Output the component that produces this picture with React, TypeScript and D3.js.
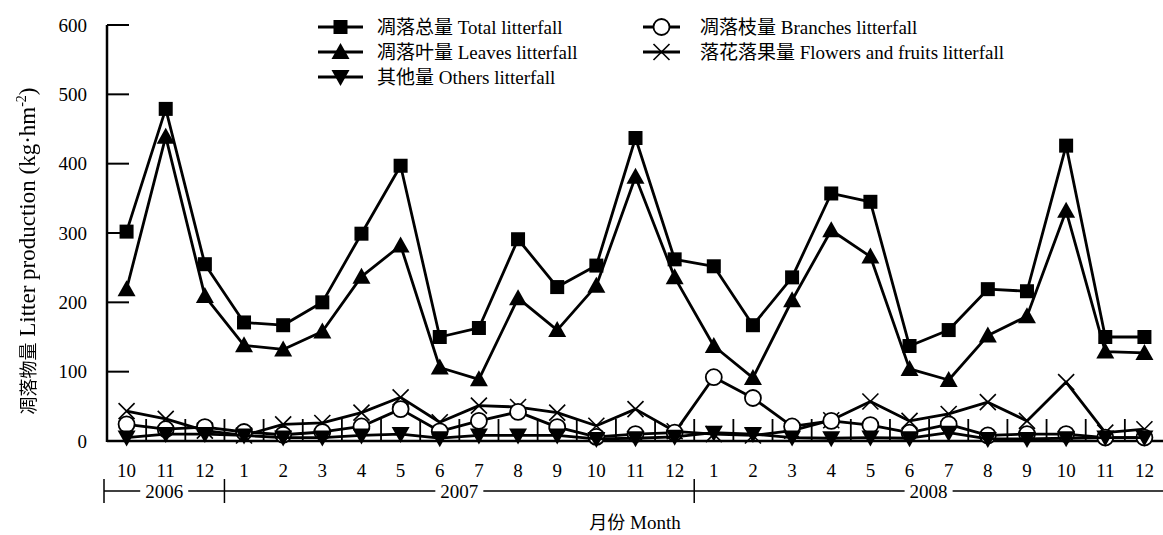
import * as d3 from "d3";

const months = ["10", "11", "12", "1", "2", "3", "4", "5", "6", "7", "8", "9", "10", "11", "12", "1", "2", "3", "4", "5", "6", "7", "8", "9", "10", "11", "12"];
const years = [
  { label: "2006", start: 0, end: 3 },
  { label: "2007", start: 3, end: 15 },
  { label: "2008", start: 15, end: 27 },
];
const yTicks = [0, 100, 200, 300, 400, 500, 600];

const totalLitter = [302, 479, 255, 171, 167, 200, 299, 397, 150, 163, 291, 222, 253, 437, 262, 252, 167, 236, 357, 345, 137, 160, 219, 216, 426, 150, 150];
const leavesLitter = [219, 439, 209, 138, 132, 158, 237, 282, 106, 89, 206, 160, 224, 381, 236, 137, 91, 203, 304, 266, 104, 88, 152, 180, 332, 129, 127];
const branchesLitter = [24, 17, 20, 13, 9, 13, 21, 46, 14, 29, 42, 20, 6, 10, 12, 92, 62, 21, 29, 23, 12, 24, 8, 10, 10, 5, 5];
const flowersLitter = [43, 32, 15, 8, 24, 26, 41, 63, 27, 51, 49, 41, 22, 46, 14, 10, 8, 15, 30, 57, 29, 39, 56, 29, 85, 12, 17];
const othersLitter = [5, 10, 10, 8, 5, 5, 8, 10, 4, 8, 8, 8, 3, 4, 6, 12, 10, 5, 4, 5, 4, 12, 3, 3, 4, 5, 5];

const W = 1163;
const H = 535;
const FONT = "'Liberation Serif', 'Times New Roman', serif";
const CJK = "'Noto Sans CJK SC', sans-serif";

const x = d3.scaleBand<number>().domain(d3.range(months.length)).range([107, 1164]);
const y = d3.scaleLinear().domain([0, 600]).range([441, 25]);
const cx = (i: number) => (x(i) ?? 0) + x.bandwidth() / 2;

function Marker({ kind, px, py }: { kind: string; px: number; py: number }) {
  if (kind === "square") return <rect x={px - 7} y={py - 7} width={14} height={14} fill="#000" />;
  if (kind === "up") return <path d={`M${px},${py - 9}L${px + 9},${py + 7}L${px - 9},${py + 7}Z`} fill="#000" />;
  if (kind === "down") return <path d={`M${px},${py + 9}L${px + 9},${py - 7}L${px - 9},${py - 7}Z`} fill="#000" />;
  if (kind === "circle") return <circle cx={px} cy={py} r={8} fill="#fff" stroke="#000" strokeWidth={1.8} />;
  return (
    <path
      d={`M${px - 8},${py - 8}L${px + 8},${py + 8}M${px + 8},${py - 8}L${px - 8},${py + 8}`}
      stroke="#000"
      strokeWidth={1.6}
    />
  );
}

const series = [
  { key: "total", data: totalLitter, kind: "square" },
  { key: "leaves", data: leavesLitter, kind: "up" },
  { key: "flowers", data: flowersLitter, kind: "x" },
  { key: "branches", data: branchesLitter, kind: "circle" },
  { key: "others", data: othersLitter, kind: "down" },
];

const legend = [
  { kind: "square", cn: "凋落总量", en: "Total litterfall", col: 0, row: 0 },
  { kind: "circle", cn: "凋落枝量", en: "Branches litterfall", col: 1, row: 0 },
  { kind: "up", cn: "凋落叶量", en: "Leaves litterfall", col: 0, row: 1 },
  { kind: "x", cn: "落花落果量", en: "Flowers and fruits litterfall", col: 1, row: 1 },
  { kind: "down", cn: "其他量", en: "Others litterfall", col: 0, row: 2 },
];
const legendCols = [{ x0: 318, x1: 363, tx: 377 }, { x0: 643, x1: 680, tx: 700 }];

export default function App() {
  const line = d3
    .line<number>()
    .x((_, i) => cx(i))
    .y((d) => y(d));
  const x0 = x.range()[0];

  return (
    <svg width={W} height={H} style={{ position: "absolute", left: 0, top: 0, background: "#fff" }} fontFamily={FONT}>
      <defs>
        <filter id="gray" x="-10%" y="-10%" width="120%" height="120%">
          <feColorMatrix type="saturate" values="0" />
        </filter>
      </defs>

      {/* y axis */}
      <line x1={x0} x2={x0} y1={y(600)} y2={y(0) + 1} stroke="#000" strokeWidth={2.5} />
      {yTicks.map((t) => (
        <g key={t}>
          <line x1={x0} x2={x0 + 22} y1={y(t)} y2={y(t)} stroke="#000" strokeWidth={2} />
          <text x={87} y={y(t)} dy="0.35em" textAnchor="end" fontSize={19}>
            {t}
          </text>
        </g>
      ))}
      <g filter="url(#gray)">
        <text transform={`translate(35,251) rotate(-90)`} textAnchor="middle" fontSize={23} fill="#000">
          <tspan fontFamily={CJK} fontSize={18}>凋落物量</tspan>
          <tspan> Litter production (kg·hm</tspan>
          <tspan fontSize={14} dy={-9}>-2</tspan>
          <tspan dy={9}>)</tspan>
        </text>
      </g>

      {/* x axis */}
      <line x1={x0} x2={W} y1={y(0)} y2={y(0)} stroke="#000" strokeWidth={2.5} />
      {months.slice(1).map((_, i) => (
        <line key={i} x1={x(i + 1)} x2={x(i + 1)} y1={y(0)} y2={y(0) - 22} stroke="#000" strokeWidth={1.8} />
      ))}
      {months.map((m, i) => (
        <text key={i} x={cx(i)} y={477} textAnchor="middle" fontSize={19}>
          {m}
        </text>
      ))}

      {/* year brackets */}
      <line x1={104} x2={W} y1={491} y2={491} stroke="#000" strokeWidth={1.5} />
      {years.map((yr, i) => {
        const a = i === 0 ? 104 : (x(yr.start) ?? 0);
        const b = yr.end < months.length ? (x(yr.end) ?? 0) : W;
        const mid = (a + b) / 2;
        return (
          <g key={yr.label}>
            <line x1={a} x2={a} y1={479} y2={503} stroke="#000" strokeWidth={1.5} />
            <rect x={mid - 24} y={482} width={48} height={18} fill="#fff" />
            <text x={mid} y={498} textAnchor="middle" fontSize={19}>
              {yr.label}
            </text>
          </g>
        );
      })}
      <text x={635} y={529} textAnchor="middle" fontSize={19}>
        <tspan fontFamily={CJK} fontSize={18}>月份</tspan>
        <tspan> Month</tspan>
      </text>

      {/* series */}
      {series.map((s) => (
        <g key={s.key}>
          <path d={line(s.data) ?? ""} fill="none" stroke="#000" strokeWidth={2.8} strokeLinejoin="round" />
          {s.data.map((v, i) => (
            <Marker key={i} kind={s.kind} px={cx(i)} py={y(v)} />
          ))}
        </g>
      ))}

      {/* legend */}
      {legend.map((l) => {
        const c = legendCols[l.col];
        const ly = 27 + l.row * 25;
        return (
          <g key={l.en}>
            <line x1={c.x0} x2={c.x1} y1={ly} y2={ly} stroke="#000" strokeWidth={2.8} />
            <Marker kind={l.kind} px={(c.x0 + c.x1) / 2} py={ly} />
            <text x={c.tx} y={ly} dy="0.35em" fontSize={19}>
              <tspan fontFamily={CJK} fontSize={19}>{l.cn}</tspan>
              <tspan> {l.en}</tspan>
            </text>
          </g>
        );
      })}
    </svg>
  );
}
